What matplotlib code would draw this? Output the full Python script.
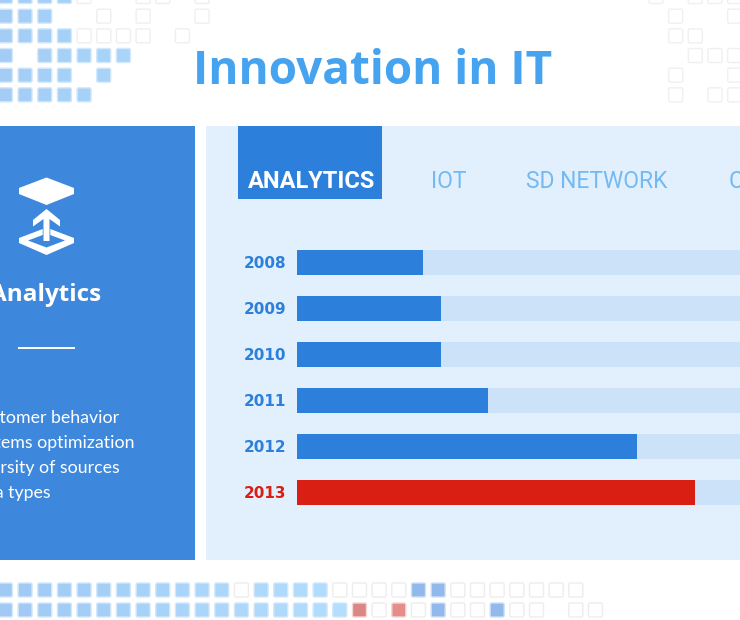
import matplotlib
matplotlib.use("Agg")
import matplotlib.pyplot as plt
from matplotlib.patches import FancyBboxPatch, Polygon, Rectangle

years = ["2008", "2009", "2010", "2011", "2012", "2013"]
values = [126, 144, 144, 191, 340, 398]
track_max = 443
tabs = ["IOT", "SD NETWORK", "CLOUD"]
tab_left = [431, 526, 729]
notes = ["Customer behavior", "Systems optimization", "Diversity of sources", "Data types"]

# grid cells as (row, column lists)
tl_filled = [[0, 1, 2, 3], [0, 1, 2], [0, 1, 2, 3], [0, 2, 3, 4, 5, 6], [0, 1, 2, 3, 5], [0, 1, 2, 3, 4]]
tl_empty = [[4, 7, 8, 10], [5, 7, 10], [4, 5, 6, 7, 9], [], [], []]
tr_empty = [[0, 2, 3, 4], [1, 4], [1, 2], [2, 3, 4], [1, 4], [1, 3, 4]]
bot_filled = [[c for c in range(17) if c != 12], list(range(18))]
bot_empty = [[12, 17, 18, 19, 20, 23, 24, 25, 26, 27, 28, 29], [19, 21, 23, 24, 26, 27, 29, 30]]
bot_blue = [[21, 22], [22, 25]]
bot_red = [[], [18, 20]]

BLUE = "#2c7fdb"
PANEL = "#3d88dd"
PITCH = 19.67


def cell(ax, x, y, face, edge):
    ax.add_patch(FancyBboxPatch((x + 1, y + 1), 12, 12, boxstyle="round,pad=1,rounding_size=1.5",
                                fc=face, ec=edge, lw=1.0))


def fill_colour(c):
    # squares get lighter going right
    t = min(c / 17, 1)
    r = int(0xa0 + t * (0xb3 - 0xa0))
    g = int(0xca + t * (0xde - 0xca))
    b = int(0xf4 + t * (0xfe - 0xf4))
    return f"#{r:02x}{g:02x}{b:02x}"


fig = plt.figure(figsize=(7.4, 6.2), dpi=100, facecolor="white")
bg = fig.add_axes([0, 0, 1, 1])
bg.set_xlim(0, 740)
bg.set_ylim(620, 0)
bg.axis("off")

# top left block
for r, cols in enumerate(tl_filled):
    for c in cols:
        cell(bg, -1.6 + PITCH * c, -10.5 + PITCH * r, fill_colour(c + 3), "#d3e8fb")
for r, cols in enumerate(tl_empty):
    for c in cols:
        cell(bg, -1.6 + PITCH * c, -10.5 + PITCH * r, "white", "#efefef")
# top right block
for r, cols in enumerate(tr_empty):
    for c in cols:
        cell(bg, 649 + PITCH * c, -10.5 + PITCH * r, "white", "#f0f0f0")
# bottom strip
for r in range(2):
    y = 583 + 20 * r
    for c in bot_filled[r]:
        cell(bg, -1.6 + PITCH * c, y, fill_colour(c), "#d3e8fb")
    for c in bot_empty[r]:
        cell(bg, -1.6 + PITCH * c, y, "white", "#ededed")
    for c in bot_blue[r]:
        cell(bg, -1.6 + PITCH * c, y, "#92b9ec", "#cfe0f6")
    for c in bot_red[r]:
        cell(bg, -1.6 + PITCH * c, y, "#e58d8a" if c == 20 else "#d98886", "#f5d5d4")

bg.text(193, 84, "Innovation in IT", color="#46a3f0", fontsize=33, fontweight="bold",
        family="Open Sans", ha="left", va="baseline")

# panels
bg.add_patch(Rectangle((0, 126), 195, 434, fc=PANEL, ec="none"))
bg.add_patch(Rectangle((206, 126), 534, 434, fc="#e1f0fc", ec="none"))
bg.add_patch(Rectangle((238, 126), 144, 73, fc=BLUE, ec="none"))

# icon
bg.add_patch(Polygon([(46.5, 177.5), (74, 188), (74, 194), (46.5, 205), (19, 194), (19, 188)], fc="white", ec="none"))
bg.add_patch(Polygon([(42.7, 229), (19, 238), (19, 243), (46.5, 255), (74, 243), (74, 238), (50.3, 229),
                      (50.3, 235), (65, 240.5), (46.5, 247.5), (28, 240.5), (42.7, 235)], fc="white", ec="none"))
bg.add_patch(Polygon([(46.5, 209), (60, 220), (60, 226.5), (49.5, 219), (49.5, 241), (43.5, 241), (43.5, 219),
                      (33, 226.5), (33, 220)], fc="white", ec="none"))

bg.text(101, 301, "Analytics", color="white", fontsize=17.5, fontweight="bold", family="Open Sans",
        ha="right", va="baseline")
bg.plot([18, 75], [348, 348], color="white", lw=1.4, solid_capstyle="butt")
note_right = [119, 135, 120, 51]
for i, line in enumerate(notes):
    bg.text(note_right[i], 423 + 25 * i, line, color="white", fontsize=12.8, family="Lato",
            ha="right", va="baseline")

bg.text(248, 188, "ANALYTICS", color="white", fontsize=17, fontweight="bold", family="Roboto",
        ha="left", va="baseline")
for label, x in zip(tabs, tab_left):
    bg.text(x, 188, label, color="#74b9f2", fontsize=16.5, family="Roboto", ha="left", va="baseline")

# bars
ax = fig.add_axes([297 / 740, 1 - 515 / 620, 443 / 740, 276 / 620])
ax.patch.set_alpha(0)
ypos = list(range(len(years)))
ax.barh(ypos, [track_max] * len(years), height=25 / 46, color="#cbe2f9")
colors = [BLUE] * 5 + ["#d91e14"]
ax.barh(ypos, values, height=25 / 46, color=colors)
ax.set_xlim(0, track_max)
ax.set_ylim(5.5, -0.5)
ax.set_yticks(ypos, years, fontsize=11, fontweight="bold", family="DejaVu Sans")
for tick, c in zip(ax.get_yticklabels(), colors):
    tick.set_color(c)
ax.tick_params(axis="y", length=0, pad=8)
ax.set_xticks([])
for s in ax.spines.values():
    s.set_visible(False)

fig.savefig("out.png", dpi=100)
